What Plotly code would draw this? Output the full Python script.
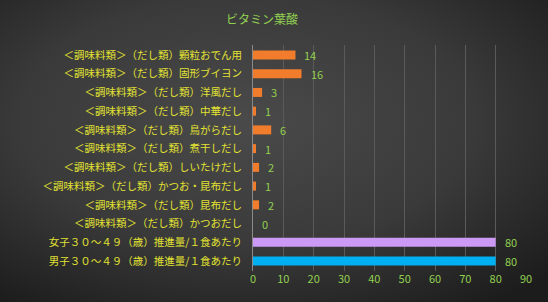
import plotly.graph_objects as go
import urllib.parse

categories = [
    "＜調味料類＞（だし類）顆粒おでん用",
    "＜調味料類＞（だし類）固形ブイヨン",
    "＜調味料類＞（だし類）洋風だし",
    "＜調味料類＞（だし類）中華だし",
    "＜調味料類＞（だし類）鳥がらだし",
    "＜調味料類＞（だし類）煮干しだし",
    "＜調味料類＞（だし類）しいたけだし",
    "＜調味料類＞（だし類）かつお・昆布だし",
    "＜調味料類＞（だし類）昆布だし",
    "＜調味料類＞（だし類）かつおだし",
    "女子３０～４９（歳）推進量/１食あたり",
    "男子３０～４９（歳）推進量/１食あたり",
]
values = [14, 16, 3, 1, 6, 1, 2, 1, 2, 0, 80, 80]
bar_colors = ["#F07C2C"] * 10 + ["#CC99F5", "#00B0F0"]
x_ticks = [0, 10, 20, 30, 40, 50, 60, 70, 80, 90]
title_text = "ビタミン葉酸"

W, H = 548, 302
ml, mr, mt, mb = 253, 22, 45, 31
pw, ph = W - ml - mr, H - mt - mb

svg = ("<svg xmlns='http://www.w3.org/2000/svg' width='548' height='302' preserveAspectRatio='none'>"
       "<defs><radialGradient id='g' cx='45%' cy='40%' r='75%'>"
       "<stop offset='0' stop-color='#4a4a4a'/><stop offset='0.55' stop-color='#3a3a3a'/>"
       "<stop offset='1' stop-color='#1c1c1c'/></radialGradient></defs>"
       "<rect width='548' height='302' fill='url(#g)'/></svg>")
src = "data:image/svg+xml;charset=utf-8," + urllib.parse.quote(svg)

font = "Noto Sans CJK JP, Noto Sans, sans-serif"

fig = go.Figure(go.Bar(
    x=values, y=categories, orientation="h",
    marker=dict(color=bar_colors, line=dict(width=0)),
    hoverinfo="x+y",
))

for c, v in zip(categories, values):
    fig.add_annotation(x=v, y=c, xref="x", yref="y", text=str(v), showarrow=False,
                       xanchor="left", yanchor="middle", xshift=7,
                       font=dict(color="#92D050", size=11, family=font))

fig.update_layout(
    width=W, height=H,
    margin=dict(l=ml, r=mr, t=mt, b=mb),
    paper_bgcolor="#303030", plot_bgcolor="rgba(0,0,0,0)",
    title=dict(text=title_text, x=262 / W, xanchor="center", y=1 - 20 / H, yanchor="middle",
               font=dict(color="#92D050", size=12, family=font)),
    bargap=0.52,
    showlegend=False,
    images=[dict(source=src, xref="paper", yref="paper",
                 x=-ml / pw, y=1 + mt / ph, sizex=W / pw, sizey=H / ph,
                 xanchor="left", yanchor="top", sizing="stretch", layer="below")],
    xaxis=dict(range=[0, 90], tickvals=x_ticks, showgrid=True, gridcolor="#5a5a5a", gridwidth=1,
               zeroline=False, showline=False, ticks="",
               tickfont=dict(color="#92D050", size=11, family=font)),
    yaxis=dict(autorange="reversed", showgrid=False, ticks="", showline=True,
               linecolor="#8a8a8a", linewidth=1, ticklabelstandoff=8,
               tickfont=dict(color="#E2E232", size=10.5, family=font)),
)

fig.write_html("out.html")
